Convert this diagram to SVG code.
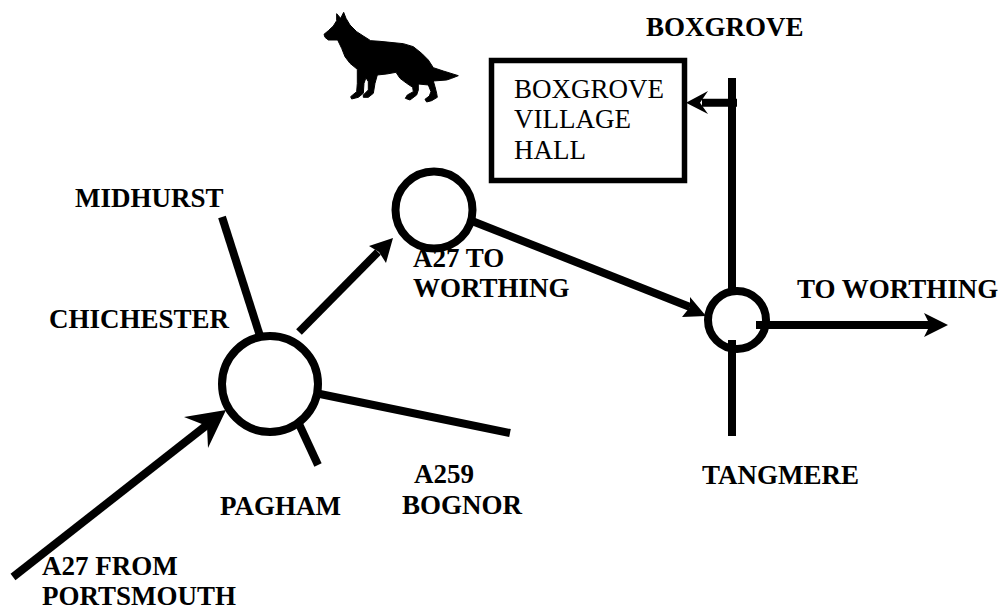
<svg xmlns="http://www.w3.org/2000/svg" width="999" height="607" viewBox="0 0 999 607">
<style>
text{font-family:"Liberation Serif","Times New Roman",serif;fill:#000}
.l{font-size:27px;font-weight:bold}
.b{font-size:27px}
.r{fill:#fff;stroke:#000;stroke-width:8}
.c{stroke:#000;stroke-width:8;fill:none}
.h{fill:#000;stroke:none}
</style>
<rect width="999" height="607" fill="#fff"/>
<g id="connectors">
<path class="c" d="M222 217L260 336"/>
<path class="c" d="M299 332L378 252"/>
<path class="h" d="M393 238L369 246L379 252L386 263Z"/>
<path class="c" d="M472 221L690 307"/>
<path class="h" d="M706 316L690 297L690 307L682 317Z"/>
<path class="c" d="M320 394L510 433"/>
<path class="c" d="M299 424L318 465"/>
<path class="c" d="M13 577L212 421"/>
<path class="h" d="M226 410L184 417L207 426L208 448Z"/>
<path class="c" d="M732 78V290"/>
<path class="c" d="M732 340V436"/>
<path class="c" d="M737 102.700H702"/>
<path class="h" d="M686 102.700L708 91L700 102.700L708 114Z"/>
<path class="c" d="M756 325H932"/>
<path class="h" d="M948 325L924 313L930 325L924 337Z"/>
</g>
<g id="dog">
<path fill="#000" stroke="#000" stroke-width="3" stroke-linejoin="round" transform="translate(300 0) scale(.3333)" d="M72 103L85 92L100 78L110 62L110 41L122 55L131 37L138 55L150 75L170 95L190 108L212 122L240 124L270 127L310 131L340 140L365 160L385 180L400 203L430 213L475 227L455 235L440 240L400 243L405 260L410 280L412 292L395 302L380 306L375 298L388 288L393 275L385 255L355 252L355 270L350 285L330 300L316 295L322 285L340 275L338 262L320 250L300 235L288 217L260 222L232 225L225 250L220 280L205 292L190 292L190 285L205 270L205 245L198 233L192 250L190 280L175 292L155 297L152 290L170 275L172 250L172 208L150 190L135 170L125 145L113 120L85 120L75 112Z"/>
</g>
<g id="boxgrove-hall">
<rect x="491.500" y="60.500" width="193" height="120" fill="#fff" stroke="#000" stroke-width="5.500"/>
<text class="b" x="514" y="98">BOXGROVE</text>
<text class="b" x="514" y="128">VILLAGE</text>
<text class="b" x="514" y="159">HALL</text>
</g>
<g id="roundabout-chichester"><circle class="r" cx="270" cy="384" r="48"/></g>
<g id="roundabout-a27"><circle class="r" cx="434" cy="210" r="38.500"/></g>
<g id="roundabout-tangmere">
<circle class="r" cx="737" cy="320" r="29"/>
<rect x="756" y="321" width="10" height="8"/>
<rect x="728" y="340" width="8" height="10"/>
</g>
<g id="labels">
<text class="l" x="646" y="36">BOXGROVE</text>
<text class="l" x="75" y="207">MIDHURST</text>
<text class="l" x="49" y="328">CHICHESTER</text>
<text class="l" x="413" y="267">A27 TO</text>
<text class="l" x="413" y="297">WORTHING</text>
<text class="l" x="797" y="298">TO WORTHING</text>
<text class="l" x="702" y="484">TANGMERE</text>
<text class="l" x="414" y="483">A259</text>
<text class="l" x="402" y="514">BOGNOR</text>
<text class="l" x="220" y="515">PAGHAM</text>
<text class="l" x="42" y="575">A27 FROM</text>
<text class="l" x="42" y="605">PORTSMOUTH</text>
</g>
</svg>
